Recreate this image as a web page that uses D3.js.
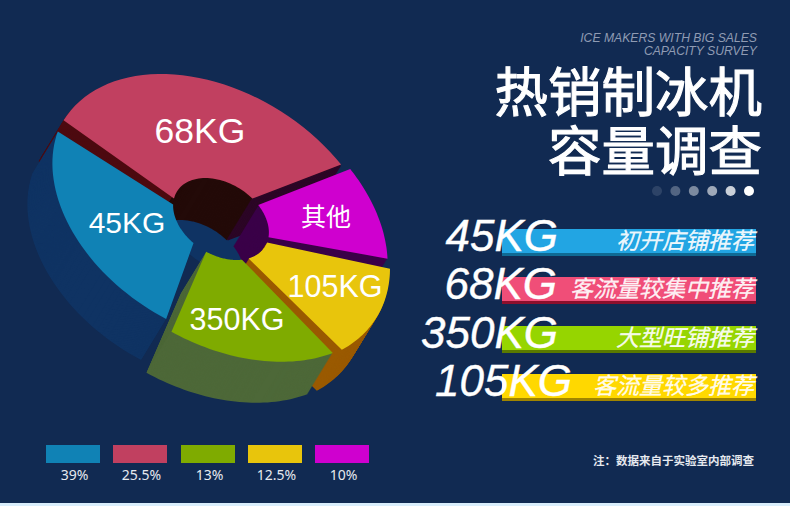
<!DOCTYPE html>
<html><head><meta charset="utf-8">
<script src="https://cdn.jsdelivr.net/npm/d3@7"></script>
<style>html,body{margin:0;padding:0;background:#112a52}svg{display:block}</style></head>
<body><svg id="c" width="790" height="506"></svg>
<script>
// ---- data ----
const categories = ["45KG","68KG","350KG","105KG","其他"];
const shareLabels = ["39%","25.5%","13%","12.5%","10%"];
const shareValues = [39,25.5,13,12.5,10];
// angular span of each slice as drawn in the picture (degrees), rim and hole, legend order
const rimFrom  = [106.7,203.1,51,0.3,320.6];
const rimTo    = [195,320,108.2,44.5,357.7];
const holeFrom = [125,191,64,16,321];
const holeTo   = [181.8,311,108,54.8,367.3];
const rimScale = [.95,.98,1.02,1,.98];
const sliceColors = ["#1082b5","#c14060","#7fab00","#e8c50c","#cf00cf"];
const wallColors  = ["#0f3363","#4d0a10","#4d6838","#9a5a00","#3a0048"];
const paintOrder = [1,4,3,2,0];
const rimShift = [[-9,-10],[-6,-3],[4,-3],[1,3],[2,0]];
const labelPos = [[127,222,30],[200,131,35.5],[237,319,30.5],[335,286,30.5],[326,217,25]];
const recNames = ["45KG","68KG","350KG","105KG"];
const recTexts = ["初开店铺推荐","客流量较集中推荐","大型旺铺推荐","客流量较多推荐"];
const recColors = ["#22a5e3","#f04e78","#96d500","#ffd800"];
const recShadows = ["#0f6a94","#8c0f2c","#5a7a00","#a08500"];
const recTop = [229,277,326,374];
const recRight = [558,557,558,572];
const recBase = [251,299,348,396];
const dotOpacity = [.12,.28,.45,.6,.78,1];
// ---- geometry ----
const svg = d3.select("#c");
const C=[221,218], H=[221,219], M=[168,47,136], k=.285, ext=[-25,41];
const rad=d3.scaleLinear().domain([0,180]).range([0,Math.PI]);
const rimPt=(t,i)=>[C[0]+rimShift[i][0]+rimScale[i]*M[0]*Math.cos(t), C[1]+rimShift[i][1]+rimScale[i]*(M[1]*Math.cos(t)+M[2]*Math.sin(t))];
const holePt=t=>[H[0]+k*M[0]*Math.cos(t), H[1]+k*(M[1]*Math.cos(t)+M[2]*Math.sin(t))];
const line=d3.line();
const u=d3.range(0,41).map(j=>j/40);
const rimPts=i=>u.map(d=>rimPt(rad(d3.interpolateNumber(rimFrom[i],rimTo[i])(d)),i));
const holePts=i=>u.map(d=>holePt(rad(d3.interpolateNumber(holeFrom[i],holeTo[i])(d))));
const slicePath=i=>line(rimPts(i).concat(holePts(i).reverse()))+"Z";
// floor of hole
svg.append("path").attr("d",line(d3.range(0,61).map(j=>holePt(j/60*2*Math.PI)))+"Z")
  .attr("fill","#0f3363").attr("transform",`translate(${ext[0]*.1},${ext[1]*.3})`);
const steps=d3.range(41,0,-1).map(j=>j/41);
paintOrder.forEach(i=>{
  const g=svg.append("g");
  g.selectAll(null).data(steps).join("path").attr("d",slicePath(i)).attr("fill",wallColors[i])
   .attr("transform",d=>`translate(${ext[0]*d},${ext[1]*d})`);
  if(i===1){
    g.selectAll(null).data(steps).join("path").attr("d",line(holePts(i))).attr("fill","none")
     .attr("stroke","#230a08").attr("stroke-width",2).attr("transform",d=>`translate(${ext[0]*d},${ext[1]*d})`);
    const r=rimPts(i), h=holePts(i);
    g.selectAll(null).data(steps).join("path").attr("d",line([r[40],h[40]])).attr("fill","none")
     .attr("stroke","#2c0626").attr("stroke-width",2).attr("transform",d=>`translate(${ext[0]*d},${ext[1]*d})`);
  }
  g.append("path").attr("d",slicePath(i)).attr("fill",sliceColors[i]);
});
const F="'Liberation Sans',Arial,sans-serif", CJK="'Noto Sans CJK SC',sans-serif";
svg.selectAll(null).data(categories).join("text").text(d=>d)
  .attr("x",(d,i)=>labelPos[i][0]).attr("y",(d,i)=>labelPos[i][1]).attr("dy",".35em")
  .attr("text-anchor","middle").attr("font-size",(d,i)=>labelPos[i][2]).attr("fill","#fff")
  .attr("font-family",`${F},${CJK}`);
// title
svg.selectAll(null).data(["ICE MAKERS WITH BIG SALES","CAPACITY SURVEY"]).join("text").text(d=>d)
  .attr("x",757).attr("y",(d,i)=>42+i*12.5).attr("text-anchor","end").attr("font-size",12.2)
  .attr("font-style","italic").attr("font-family",F).attr("fill","#8f9bb3");
svg.selectAll(null).data(["热销制冰机","容量调查"]).join("text").text(d=>d)
  .attr("x",762).attr("y",(d,i)=>112+i*59).attr("text-anchor","end").attr("font-size",53.5)
  .attr("font-family",CJK).attr("fill","#fff").attr("stroke","#fff").attr("stroke-width",1.1);
svg.selectAll(null).data(dotOpacity).join("circle").attr("cx",(d,i)=>657+i*18.4).attr("cy",191).attr("r",5)
  .attr("fill","#fff").attr("opacity",d=>d);
// recommendation bars
recNames.forEach((n,i)=>{
  svg.append("rect").attr("x",502).attr("y",recTop[i]).attr("width",254).attr("height",27).attr("fill",recShadows[i]);
  svg.append("rect").attr("x",502).attr("y",recTop[i]).attr("width",254).attr("height",24).attr("fill",recColors[i]);
  svg.append("text").text(n).attr("x",recRight[i]).attr("y",recBase[i]).attr("text-anchor","end")
    .attr("font-size",44).attr("font-style","italic").attr("font-family",F).attr("fill","#fff")
    .attr("stroke","#fff").attr("stroke-width",.4);
  svg.append("text").text(recTexts[i]).attr("x",754).attr("y",recTop[i]+20).attr("text-anchor","end")
    .attr("font-size",23).attr("font-style","italic").attr("font-family",CJK).attr("fill","#fff").attr("fill-opacity",.92)
    .attr("stroke","#fff").attr("stroke-opacity",.9).attr("stroke-width",.3);
});
// legend
const legendX=[46,113,181,248,315];
svg.selectAll(null).data(shareValues).join("rect").attr("x",(d,i)=>legendX[i]).attr("y",445).attr("width",54).attr("height",18)
  .attr("fill",(d,i)=>sliceColors[i]);
svg.selectAll(null).data(shareLabels).join("text").text(d=>d).attr("x",(d,i)=>legendX[i]+28.5).attr("y",480)
  .attr("text-anchor","middle").attr("font-size",14).attr("font-family","'Noto Sans',sans-serif").attr("fill","#e6e9ef");
svg.append("text").text("注\uFF1A数据来自于实验室内部调查").attr("x",754).attr("y",465).attr("text-anchor","end")
  .attr("font-size",11.5).attr("font-weight",700).attr("font-family",CJK).attr("fill","#e6e9ef");
svg.append("rect").attr("x",0).attr("y",503).attr("width",790).attr("height",3).attr("fill","#d9eefc");
</script></body></html>
